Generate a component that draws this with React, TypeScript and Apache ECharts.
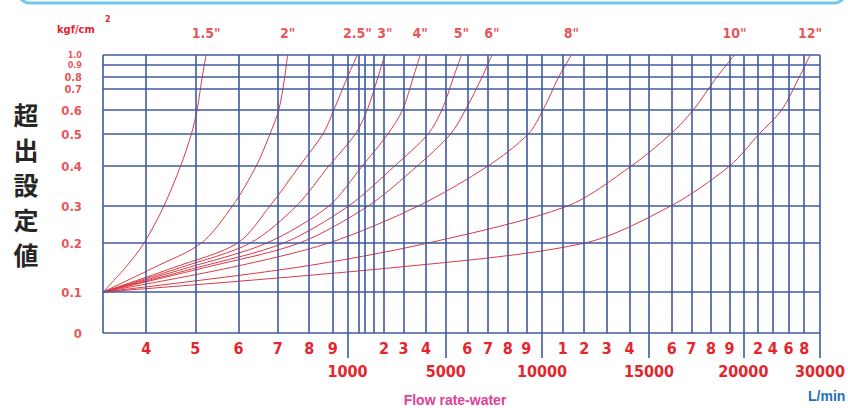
import React, { useEffect, useRef } from "react";
import * as echarts from "echarts";

// ---- X scale (flow, L/min) : grid-line flows and their axis positions ----
const X_GRID_FLOWS = [300, 400, 500, 600, 700, 800, 900, 1000, 1250, 1500, 1750, 2000, 3000, 4000, 5000, 6000, 7000, 8000, 9000, 10000, 11000, 12000, 13000, 14000, 15000, 16000, 17000, 18000, 19000, 20000, 22000, 24000, 26000, 28000, 30000];
const X_GRID_POS = [0, 44, 94, 138, 178, 210, 234, 249, 260, 267, 276, 286, 306, 329, 349, 371, 392, 412, 431, 447, 468, 490, 513, 536, 556, 579, 599, 619, 638, 652, 667, 682, 698, 714, 730];

const MINOR_TICK_FLOWS = [400, 500, 600, 700, 800, 900, 2000, 3000, 4000, 6000, 7000, 8000, 9000, 11000, 12000, 13000, 14000, 16000, 17000, 18000, 19000, 22000, 24000, 26000, 28000];
const MINOR_TICK_LABELS = ["4", "5", "6", "7", "8", "9", "2", "3", "4", "6", "7", "8", "9", "1", "2", "3", "4", "6", "7", "8", "9", "2", "4", "6", "8"];
const MAJOR_TICK_FLOWS = [1000, 5000, 10000, 15000, 20000, 30000];
const MAJOR_TICK_LABELS = ["1000", "5000", "10000", "15000", "20000", "30000"];

// ---- Y scale (kgf/cm2) ----
const Y_LEVELS = [0, 0.1, 0.2, 0.3, 0.4, 0.5, 0.6, 0.7, 0.8, 0.9, 1.0];
const Y_POS = [0, 41, 90, 127, 167, 199, 223, 244, 256, 268, 278];
const Y_LABELS = ["0", "0.1", "0.2", "0.3", "0.4", "0.5", "0.6", "0.7", "0.8", "0.9", "1.0"];

// ---- Curves: flow at each pressure level ----
const PRESSURES = [0.1, 0.15, 0.2, 0.3, 0.4, 0.5, 0.6, 0.8, 1.0];
const SIZES = ['1.5"', '2"', '2.5"', '3"', '4"', '5"', '6"', '8"', '10"', '12"'];
const FLOW_1_5 = [300, 352, 395, 436, 470, 492, 504, 516, 525];
const FLOW_2 = [300, 416, 514, 586, 645, 680, 703, 722, 731];
const FLOW_2_5 = [300, 456, 598, 680, 769, 858, 907, 1000, 1227];
const FLOW_3 = [300, 470, 630, 759, 883, 1182, 1556, 1850, 2050];
const FLOW_4 = [300, 486, 672, 883, 1393, 2200, 2950, 3435, 3739];
const FLOW_5 = [300, 505, 719, 1023, 2550, 4100, 4800, 5364, 5727];
const FLOW_6 = [300, 523, 769, 1583, 3609, 5227, 5909, 6714, 7200];
const FLOW_8 = [300, 582, 883, 3652, 7000, 9125, 10048, 10810, 11409];
const FLOW_10 = [300, 759, 4100, 11227, 14100, 15957, 17100, 18316, 19357];
const FLOW_12 = [300, 2550, 12043, 15957, 19000, 22133, 25125, 27375, 28750];
const FLOWS = [FLOW_1_5, FLOW_2, FLOW_2_5, FLOW_3, FLOW_4, FLOW_5, FLOW_6, FLOW_8, FLOW_10, FLOW_12];

function interp(v: number, xs: number[], ys: number[]) {
  if (v <= xs[0]) return ys[0];
  for (let i = 1; i < xs.length; i++) {
    if (v <= xs[i]) {
      const t = (v - xs[i - 1]) / (xs[i] - xs[i - 1]);
      return ys[i - 1] + t * (ys[i] - ys[i - 1]);
    }
  }
  return ys[ys.length - 1];
}
const xPos = (f: number) => interp(f, X_GRID_FLOWS, X_GRID_POS);
const yPos = (p: number) => interp(p, Y_LEVELS, Y_POS);

const RED = "#e3262e";
const CURVE = "#d93a44";
const GRIDC = "#3f5a9f";
const NARROW = "'Liberation Sans Narrow', 'Arial Narrow', 'DejaVu Sans Condensed', sans-serif";

export default function App() {
  const ref = useRef<HTMLDivElement>(null);
  useEffect(() => {
    if (!ref.current) return;
    const chart = echarts.init(ref.current, undefined, { renderer: "svg" });
    const minorPos = MINOR_TICK_FLOWS.map(xPos);
    const majorPos = MAJOR_TICK_FLOWS.map(xPos);
    const lookup = (arr: number[], labels: string[]) => (v: number) => {
      const i = arr.findIndex((p) => Math.abs(p - v) < 1e-6);
      return i >= 0 ? labels[i] : "";
    };
    const gridMarks: any[] = [];
    X_GRID_FLOWS.forEach((f) => gridMarks.push({ xAxis: xPos(f) }));
    Y_LEVELS.forEach((p) => gridMarks.push({ yAxis: yPos(p) }));

    // y labels: shrink where the levels are packed tightly so texts don't collide
    const yLabelData = Y_LEVELS.map((p, i) => {
      const here = yPos(p);
      const gaps: number[] = [];
      if (i > 0) gaps.push(here - yPos(Y_LEVELS[i - 1]));
      if (i < Y_LEVELS.length - 1) gaps.push(yPos(Y_LEVELS[i + 1]) - here);
      const fs = Math.min(13, Math.min(...gaps) - 1);
      return {
        name: Y_LABELS[i],
        value: [0, here],
        label: { fontSize: fs, lineHeight: fs },
      };
    });

    const curveSeries = SIZES.map((name, k) => ({
      type: "line",
      name,
      smooth: 0.3,
      showSymbol: false,
      symbol: "none",
      lineStyle: { color: CURVE, width: 1 },
      z: 4,
      data: PRESSURES.map((p, i) => [xPos(FLOWS[k][i]), yPos(p)]),
    }));

    chart.setOption({
      animation: false,
      grid: { left: 103, right: 15, top: 55, bottom: 75 },
      xAxis: [
        {
          type: "value",
          min: 0,
          max: 730,
          position: "bottom",
          axisLine: { show: false },
          splitLine: { show: false },
          axisTick: { show: false },
          axisLabel: {
            customValues: minorPos,
            formatter: lookup(minorPos, MINOR_TICK_LABELS),
            color: RED,
            fontFamily: NARROW,
            fontWeight: "bold",
            fontSize: 16,
            margin: 7,
          },
        },
        {
          type: "value",
          min: 0,
          max: 730,
          position: "bottom",
          axisLine: { show: false },
          splitLine: { show: false },
          axisTick: {
            show: true,
            customValues: majorPos,
            length: 25,
            lineStyle: { color: GRIDC, width: 1.6 },
          },
          axisLabel: {
            customValues: majorPos,
            formatter: lookup(majorPos, MAJOR_TICK_LABELS),
            color: RED,
            fontFamily: NARROW,
            fontWeight: "bold",
            fontSize: 16,
            margin: 30,
            showMaxLabel: true,
            showMinLabel: true,
          },
        },
      ],
      yAxis: {
        type: "value",
        min: 0,
        max: 278,
        axisLine: { show: false },
        splitLine: { show: false },
        axisTick: { show: false },
        axisLabel: { show: false },
      },
      series: [
        {
          type: "scatter",
          name: "grid",
          data: [[0, 0]],
          symbolSize: 0,
          silent: true,
          z: 2,
          markLine: {
            silent: true,
            symbol: ["none", "none"],
            label: { show: false },
            lineStyle: { color: GRIDC, width: 1.6, type: "solid" },
            data: gridMarks,
          },
        },
        ...curveSeries,
        {
          type: "scatter",
          name: "yLabels",
          symbolSize: 0,
          silent: true,
          z: 5,
          data: yLabelData,
          label: {
            show: true,
            position: "left",
            distance: 21,
            formatter: "{b}",
            color: RED,
            fontFamily: NARROW,
            fontWeight: "bold",
            fontSize: 13,
          },
        },
        {
          type: "scatter",
          name: "sizes",
          symbolSize: 0,
          silent: true,
          z: 5,
          data: SIZES.map((name, k) => ({ name, value: [xPos(FLOWS[k][FLOWS[k].length - 1]), yPos(1.0)] })),
          label: {
            show: true,
            position: "top",
            distance: 15,
            formatter: "{b}",
            color: RED,
            fontFamily: NARROW,
            fontWeight: "bold",
            fontSize: 14,
          },
        },
      ],
      graphic: [
        {
          type: "rect",
          shape: { x: 18, y: -30, width: 828, height: 33, r: 12 },
          style: { fill: "none", stroke: "#6cc8ec", lineWidth: 3 },
        },
        {
          type: "text",
          x: 57,
          y: 29,
          style: { text: "kgf/cm", fill: RED, fontSize: 11, fontWeight: "bold", fontFamily: NARROW, verticalAlign: "middle" },
        },
        {
          type: "text",
          x: 105,
          y: 19,
          style: { text: "2", fill: RED, fontSize: 9, fontWeight: "bold", fontFamily: NARROW, verticalAlign: "middle" },
        },
        {
          type: "text",
          x: 26,
          y: 96,
          style: {
            text: "超\n出\n設\n定\n値",
            fill: "#262626",
            fontSize: 25,
            lineHeight: 35,
            fontWeight: "bold",
            fontFamily: "'Noto Sans CJK JP', sans-serif",
            align: "center",
            verticalAlign: "top",
          },
        },
        {
          type: "text",
          x: 455,
          y: 400,
          style: { text: "Flow rate-water", fill: "#e0409a", fontSize: 14, fontWeight: "bold", fontFamily: "'Liberation Sans', sans-serif", align: "center", verticalAlign: "middle" },
        },
        {
          type: "text",
          x: 808,
          y: 396,
          style: { text: "L/min", fill: "#1f6fc0", fontSize: 14, fontWeight: "bold", fontFamily: "'Liberation Sans', sans-serif", verticalAlign: "middle" },
        },
      ],
    });
    return () => chart.dispose();
  }, []);
  return (
    <div
      ref={ref}
      style={{ position: "fixed", left: 0, top: 0, width: 848, height: 408, background: "#fff" }}
    />
  );
}
